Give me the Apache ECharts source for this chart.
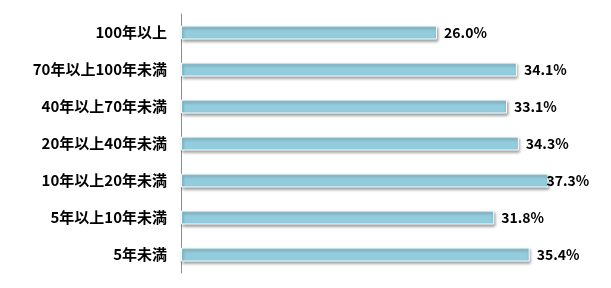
<!DOCTYPE html>
<html>
<head>
<meta charset="utf-8">
<script src="https://cdn.jsdelivr.net/npm/echarts@6/dist/echarts.min.js"></script>
<style>
html,body{margin:0;padding:0;background:#fff;}
#c{width:611px;height:288px;}
</style>
</head>
<body>
<div id="c"></div>
<script>
var categories = ['100年以上', '70年以上100年未満', '40年以上70年未満', '20年以上40年未満', '10年以上20年未満', '5年以上10年未満', '5年未満'];
var values = [26.0, 34.1, 33.1, 34.3, 37.3, 31.8, 35.4];

var maxVal = Math.max.apply(null, values);
var seriesData = values.map(function (v) {
  return v === maxVal ? {value: v, label: {distance: -2}} : {value: v};
});

var chart = echarts.init(document.getElementById('c'), null, {renderer: 'canvas'});
var font = '"Noto Sans CJK JP", "Noto Sans", sans-serif';
chart.setOption({
  animation: false,
  backgroundColor: '#ffffff',
  grid: {left: 181, top: 14, width: 394, height: 259, containLabel: false},
  xAxis: {
    type: 'value', min: 0, max: 40, show: false
  },
  yAxis: {
    type: 'category', data: categories, inverse: true,
    axisLine: {show: true, lineStyle: {color: '#8c8c8c', width: 1}},
    axisTick: {show: false},
    axisLabel: {color: '#000', fontFamily: font, fontWeight: 'bold', fontSize: 15, margin: 14}
  },
  series: [{
    type: 'bar',
    data: seriesData,
    barWidth: 14,
    itemStyle: {
      color: '#93CDDD',
      borderColor: '#ffffff', borderWidth: 1,
      shadowColor: 'rgba(0,0,0,0.4)', shadowBlur: 3, shadowOffsetX: 1, shadowOffsetY: 2
    },
    label: {
      show: true, position: 'right', distance: 7,
      color: '#000', fontFamily: font, fontWeight: 'bold', fontSize: 14,
      formatter: function (p) { return p.value.toFixed(1) + '%'; }
    }
  }]
});
</script>
</body>
</html>
